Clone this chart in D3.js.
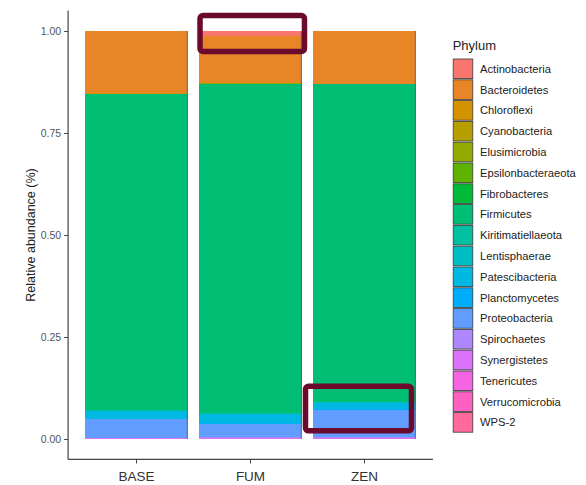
<!DOCTYPE html>
<html>
<head>
<meta charset="utf-8">
<script src="https://cdn.jsdelivr.net/npm/d3@7/dist/d3.min.js"></script>
<style>
  html, body { margin: 0; padding: 0; background: #ffffff; }
  svg { display: block; font-family: "Liberation Sans", Arial, sans-serif; }
</style>
</head>
<body>
<div id="chart"></div>
<script>
// Treatments on the x axis
const categories = ["BASE", "FUM", "ZEN"];

// Phyla in legend order (first level is stacked on top)
const phyla = [
  "Actinobacteria", "Bacteroidetes", "Chloroflexi", "Cyanobacteria",
  "Elusimicrobia", "Epsilonbacteraeota", "Fibrobacteres", "Firmicutes",
  "Kiritimatiellaeota", "Lentisphaerae", "Patescibacteria", "Planctomycetes",
  "Proteobacteria", "Spirochaetes", "Synergistetes", "Tenericutes",
  "Verrucomicrobia", "WPS-2"
];

// Relative abundance of each phylum, one list per treatment (same order as phyla)
const baseValues = [0.001, 0.153, 0.0002, 0.0003, 0.0002, 0.0001, 0.0002, 0.776,
                    0.0005, 0.0005, 0.019, 0.001, 0.046, 0.0015, 0.0008, 0.0004, 0.0002, 0.0001];
const fumValues  = [0.012, 0.116, 0.0002, 0.0003, 0.0002, 0.0001, 0.0002, 0.808,
                    0.0005, 0.0005, 0.024, 0.001, 0.033, 0.002, 0.001, 0.0006, 0.0003, 0.0001];
const zenValues  = [0.001, 0.128, 0.0002, 0.0003, 0.0002, 0.0001, 0.0002, 0.780,
                    0.0005, 0.0005, 0.016, 0.002, 0.067, 0.002, 0.001, 0.0006, 0.0003, 0.0001];

// Y axis ticks
const yTicks = [0, 0.25, 0.5, 0.75, 1];
const yTickLabels = ["0.00", "0.25", "0.50", "0.75", "1.00"];

// Discrete hue palette, one colour per phylum
const palette = [
  "#F8766D", "#E88526", "#D39200", "#B79F00", "#93AA00", "#5EB300",
  "#00BA38", "#00BF74", "#00C19F", "#00BFC4", "#00B9E3", "#00ADFA",
  "#619CFF", "#AE87FF", "#DB72FB", "#F564E3", "#FF61C3", "#FF699C"
];

// Highlight frames: treatment, horizontal extent as a fraction of the bar, vertical extent in data units
const highlights = [
  { cat: "FUM", from: 0.008, to: 1.026, y0: 0.950, y1: 1.038 },
  { cat: "ZEN", from: -0.075, to: 0.958, y0: 0.020, y1: 0.129 }
];

const W = 586, H = 485;
const panel = { left: 68.1, right: 432.9, top: 10.6, bottom: 459.4 };

const svg = d3.select("#chart").append("svg")
  .attr("width", W).attr("height", H);

const x = d3.scaleBand()
  .domain(categories)
  .range([panel.left, panel.right])
  .paddingInner(0.1)
  .paddingOuter(0.15);

const y = d3.scaleLinear()
  .domain([-0.05, 1.05])
  .range([panel.bottom, panel.top]);

const color = d3.scaleOrdinal().domain(phyla).range(palette);

// Build a row per treatment
const valueLists = [baseValues, fumValues, zenValues];
const rows = categories.map((c, i) => {
  const r = { cat: c };
  phyla.forEach((p, j) => { r[p] = valueLists[i][j]; });
  return r;
});

// Stack from the last phylum at the bottom up to the first at the top
const stack = d3.stack().keys(phyla.slice().reverse());
const series = stack(rows);

const barG = svg.append("g");
series.forEach(s => {
  barG.selectAll(null)
    .data(s)
    .enter().append("rect")
    .attr("x", d => x(d.data.cat))
    .attr("width", x.bandwidth())
    .attr("y", d => y(d[1]))
    .attr("height", d => Math.max(0, y(d[0]) - y(d[1])))
    .attr("fill", color(s.key))
    .attr("shape-rendering", "crispEdges");
});

// Thin shadow line along the right side of each bar
svg.append("g").selectAll("line")
  .data(rows)
  .enter().append("line")
  .attr("x1", d => x(d.cat) + x.bandwidth() - 0.5)
  .attr("x2", d => x(d.cat) + x.bandwidth() - 0.5)
  .attr("y1", y(1))
  .attr("y2", y(0))
  .attr("stroke", "#555")
  .attr("stroke-opacity", 0.6)
  .attr("stroke-width", 1);

// Axes
const yAxis = d3.axisLeft(y)
  .tickValues(yTicks)
  .tickFormat((d, i) => yTickLabels[i])
  .tickSize(4)
  .tickPadding(3);

const xAxis = d3.axisBottom(x)
  .tickSize(4)
  .tickPadding(8);

const gy = svg.append("g")
  .attr("transform", `translate(${panel.left},0)`)
  .call(yAxis);
gy.select(".domain").remove();
gy.append("line")
  .attr("x1", 0).attr("x2", 0)
  .attr("y1", panel.top).attr("y2", panel.bottom)
  .attr("stroke", "#444").attr("stroke-width", 1.2);
gy.selectAll(".tick line").attr("stroke", "#444");
gy.selectAll(".tick text")
  .attr("fill", "#555")
  .style("font-size", "10.5px");

const gx = svg.append("g")
  .attr("transform", `translate(0,${panel.bottom})`)
  .call(xAxis);
gx.select(".domain").remove();
gx.append("line")
  .attr("x1", panel.left).attr("x2", panel.right)
  .attr("y1", 0).attr("y2", 0)
  .attr("stroke", "#444").attr("stroke-width", 1.2);
gx.selectAll(".tick line").attr("stroke", "#444");
gx.selectAll(".tick text")
  .attr("fill", "#333")
  .style("font-size", "13.5px");

// Y axis title
svg.append("text")
  .attr("transform", `translate(31,${(panel.top + panel.bottom) / 2}) rotate(-90)`)
  .attr("text-anchor", "middle")
  .attr("dy", "0.35em")
  .attr("fill", "#222")
  .style("font-size", "12.5px")
  .text("Relative abundance (%)");

// Legend
const legend = svg.append("g").attr("transform", "translate(452.7,0)");
legend.append("text")
  .attr("x", 0).attr("y", 50)
  .attr("fill", "#222")
  .style("font-size", "13px")
  .text("Phylum");

const keyTop = 58.5, pitch = 20.8, keySize = 19.6;
const items = legend.selectAll("g.item")
  .data(phyla)
  .enter().append("g")
  .attr("class", "item")
  .attr("transform", (d, i) => `translate(0,${keyTop + i * pitch})`);
items.append("rect")
  .attr("x", 0.5).attr("y", 0.5)
  .attr("width", keySize).attr("height", keySize)
  .attr("fill", d => color(d))
  .attr("stroke", "#3a3a3a")
  .attr("stroke-width", 0.8);
items.append("text")
  .attr("x", 27.3)
  .attr("y", keySize / 2 + 0.5)
  .attr("dy", "0.35em")
  .attr("fill", "#222")
  .style("font-size", "11.2px")
  .text(d => d);

// Highlight frames
svg.append("g").selectAll("rect")
  .data(highlights)
  .enter().append("rect")
  .attr("x", d => x(d.cat) + d.from * x.bandwidth())
  .attr("width", d => (d.to - d.from) * x.bandwidth())
  .attr("y", d => y(d.y1))
  .attr("height", d => y(d.y0) - y(d.y1))
  .attr("rx", 3).attr("ry", 3)
  .attr("fill", "none")
  .attr("stroke", "#6b0a2c")
  .attr("stroke-width", 5.5);
</script>
</body>
</html>
